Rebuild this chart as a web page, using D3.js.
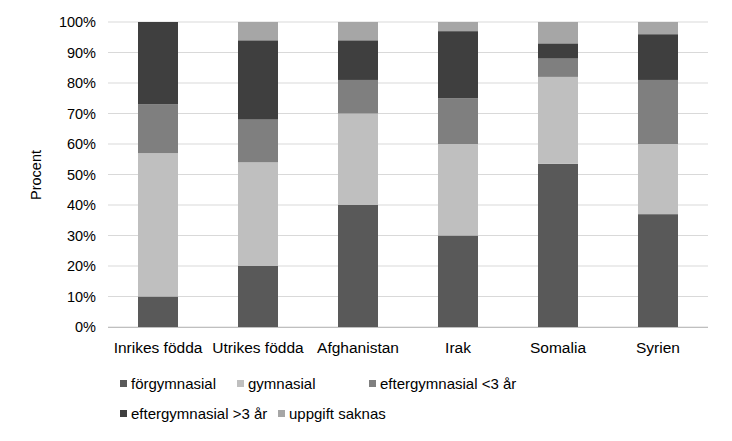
<!DOCTYPE html><html><head><meta charset="utf-8"><script src="https://cdn.jsdelivr.net/npm/d3@7"></script>
<style>body{margin:0;background:#fff}text{font-family:"Liberation Sans",Arial,sans-serif;fill:#000}</style></head><body><svg width="732" height="441"></svg><script>
const categories=["Inrikes födda","Utrikes födda","Afghanistan","Irak","Somalia","Syrien"];
const seriesNames=["förgymnasial","gymnasial","eftergymnasial <3 år","eftergymnasial >3 år","uppgift saknas"];
const colors=["#595959","#bfbfbf","#7f7f7f","#3f3f3f","#a6a6a6"];
const forgymnasial=[10,20,40,30,53.5,37];
const gymnasial=[47,34,30,30,28.5,23];
const eftergymnasialUnder3=[16,14,11,15,6,21];
const eftergymnasialOver3=[27,26,13,22,5,15];
const uppgiftSaknas=[0,6,6,3,7,4];
const yTicks=[0,10,20,30,40,50,60,70,80,90,100];
const series=[forgymnasial,gymnasial,eftergymnasialUnder3,eftergymnasialOver3,uppgiftSaknas];
const svg=d3.select("svg");
const x=d3.scaleBand().domain(categories).range([108,708]).paddingInner(0.6).paddingOuter(0.3);
const y=d3.scaleLinear().domain([0,100]).range([327,22]);
svg.append("g").selectAll("line").data(yTicks).join("line").attr("x1",108).attr("x2",708).attr("y1",d=>y(d)).attr("y2",d=>y(d)).attr("stroke","#d9d9d9");
svg.append("g").selectAll("text").data(yTicks).join("text").attr("x",96).attr("y",d=>y(d)+5).attr("text-anchor","end").attr("font-size",14.5).text(d=>d+"%");
const table=categories.map((c,i)=>{const o={cat:c};seriesNames.forEach((s,j)=>o[s]=series[j][i]);return o;});
const stack=d3.stack().keys(seriesNames)(table);
stack.forEach((layer,j)=>{svg.append("g").attr("fill",colors[j]).selectAll("rect").data(layer).join("rect")
 .attr("x",d=>x(d.data.cat)).attr("width",x.bandwidth()).attr("y",d=>y(d[1])).attr("height",d=>y(d[0])-y(d[1]));});
svg.append("line").attr("x1",108).attr("x2",708).attr("y1",327.5).attr("y2",327.5).attr("stroke","#bfbfbf");
svg.append("g").selectAll("text").data(categories).join("text").attr("x",d=>x(d)+x.bandwidth()/2).attr("y",353).attr("text-anchor","middle").attr("font-size",15.5).text(d=>d);
svg.append("text").attr("transform","translate(41,175) rotate(-90)").attr("text-anchor","middle").attr("font-size",14.5).text("Procent");
const lpos=[[120,384],[237,384],[369,384],[120,414],[278,414]];
seriesNames.forEach((s,j)=>{const g=svg.append("g").attr("transform",`translate(${lpos[j][0]},${lpos[j][1]})`);
 g.append("rect").attr("x",0).attr("y",-4).attr("width",7).attr("height",7).attr("fill",colors[j]);
 g.append("text").attr("x",11).attr("y",5).attr("font-size",15).text(s);});
</script></body></html>
